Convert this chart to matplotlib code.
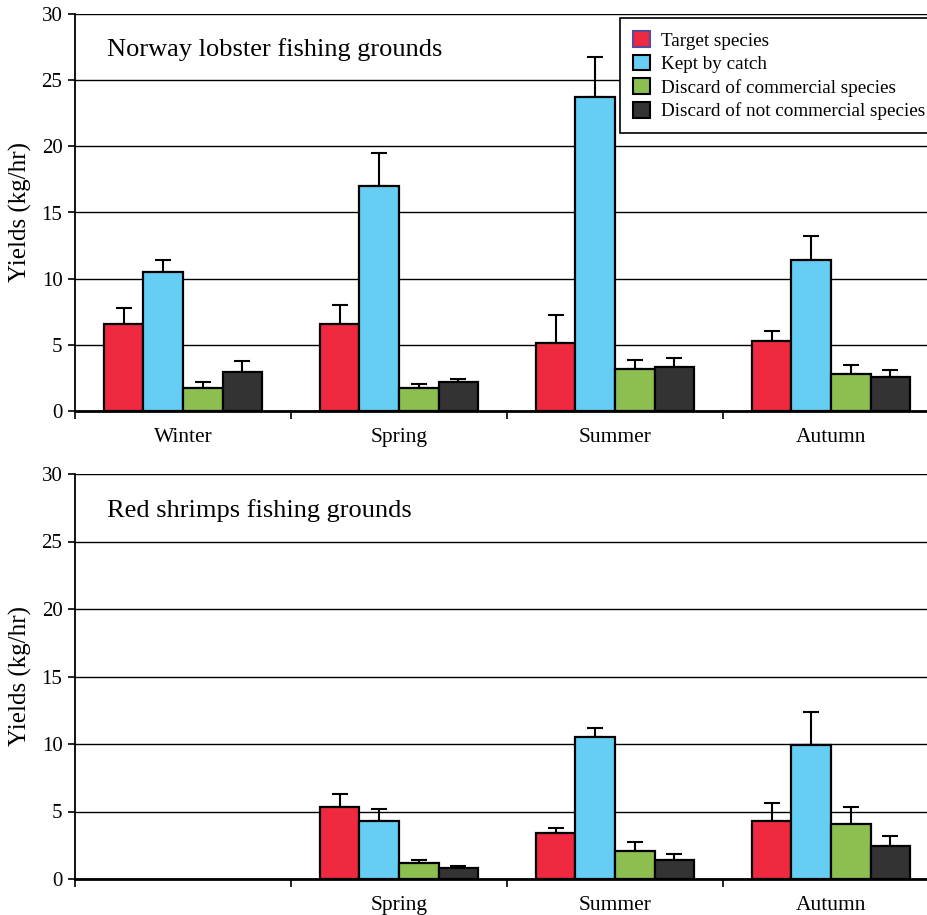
import numpy as np
import matplotlib.pyplot as plt
from matplotlib.patches import Patch

plt.rcParams['font.family'] = ['Liberation Serif', 'DejaVu Serif']

seasons = ['Winter', 'Spring', 'Summer', 'Autumn']
series = ['Target species', 'Kept by catch', 'Discard of commercial species',
          'Discard of not commercial species']
colors = ['#EE2940', '#66CEF5', '#8CBF4F', '#333333']

# Norway lobster fishing grounds: means and upper error
lobster_mean = [
    [6.6, 6.6, 5.15, 5.3],
    [10.5, 17.0, 23.7, 11.4],
    [1.75, 1.75, 3.2, 2.8],
    [2.95, 2.2, 3.35, 2.6],
]
lobster_err = [
    [1.2, 1.4, 2.1, 0.75],
    [0.9, 2.5, 3.05, 1.8],
    [0.45, 0.3, 0.65, 0.68],
    [0.8, 0.25, 0.65, 0.5],
]

# Red shrimps fishing grounds (no winter samples)
shrimp_mean = [
    [np.nan, 5.35, 3.4, 4.3],
    [np.nan, 4.3, 10.55, 9.9],
    [np.nan, 1.15, 2.07, 4.07],
    [np.nan, 0.8, 1.4, 2.42],
]
shrimp_err = [
    [0, 0.95, 0.4, 1.3],
    [0, 0.9, 0.65, 2.5],
    [0, 0.25, 0.67, 1.27],
    [0, 0.15, 0.45, 0.75],
]

fig = plt.figure(figsize=(9.28, 9.15), dpi=100)
ax1 = fig.add_axes([75 / 928, 1 - 411 / 915, 864 / 928, 397 / 915])
ax2 = fig.add_axes([75 / 928, 1 - 879 / 915, 864 / 928, 405 / 915])

x = np.arange(len(seasons))
w = 0.183


def draw(ax, means, errs, title, labels):
    ax.set_axisbelow(True)
    ax.yaxis.grid(True, color='black', lw=1)
    for i in range(4):
        m = np.array(means[i], dtype=float)
        e = np.array(errs[i], dtype=float)
        ok = ~np.isnan(m)
        pos = x + (i - 1.5) * w
        ax.bar(pos[ok], m[ok], w, color=colors[i], edgecolor='black', lw=1.6, zorder=3)
        ax.errorbar(pos[ok], m[ok], yerr=[np.zeros(ok.sum()), e[ok]], fmt='none',
                    ecolor='black', elinewidth=1.5, capsize=5.5, capthick=1.5, zorder=2)
    ax.set_xlim(-0.5, 3.5)
    ax.set_ylim(0, 30)
    ax.set_yticks(range(0, 31, 5))
    ax.set_xticks(np.arange(-0.5, 4, 1))
    ax.set_xticklabels([])
    ax.set_xticks(x, minor=True)
    ax.set_xticklabels(labels, minor=True)
    ax.tick_params(axis='x', which='minor', length=0, labelsize=15.5, pad=12)
    ax.tick_params(axis='x', which='major', length=6, width=1.2)
    ax.tick_params(axis='y', length=5, width=1.2, labelsize=15, pad=4)
    for s in ['top', 'right']:
        ax.spines[s].set_visible(False)
    ax.spines['bottom'].set_linewidth(2)
    ax.spines['left'].set_linewidth(1.3)
    ax.set_ylabel('Yields (kg/hr)', fontsize=18, labelpad=7)
    ax.text(32 / 864, 0.91, title, transform=ax.transAxes, fontsize=19, va='center')


draw(ax1, lobster_mean, lobster_err, 'Norway lobster fishing grounds', seasons)
draw(ax2, shrimp_mean, shrimp_err, 'Red shrimps fishing grounds', [''] + seasons[1:])

edges = ['#5A4A9A', 'black', 'black', 'black']
handles = [Patch(facecolor=c, edgecolor=ec, lw=1.5) for c, ec in zip(colors, edges)]
leg = ax1.legend(handles, series, loc='upper left', bbox_to_anchor=(545 / 864, 0.99),
                 fontsize=13.8, frameon=True, fancybox=False, framealpha=1,
                 edgecolor='black', handlelength=0.9, handleheight=0.9,
                 handletextpad=0.55, labelspacing=0.26, borderpad=0.68,
                 borderaxespad=0)
leg.get_frame().set_linewidth(1.2)
leg.set_zorder(5)

fig.savefig('out.png', dpi=100)
